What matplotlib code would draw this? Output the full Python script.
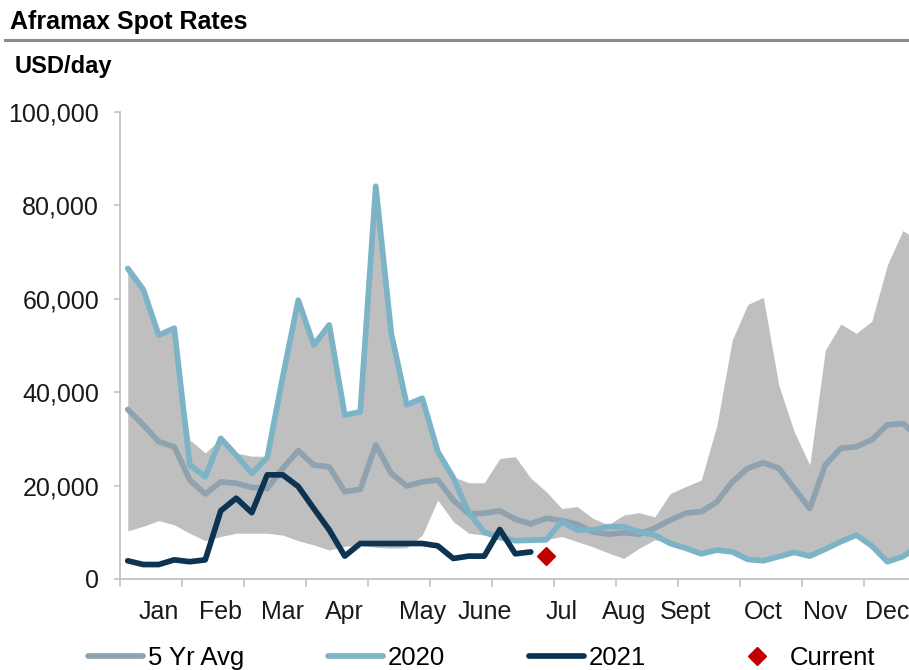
import matplotlib
matplotlib.use("Agg")
import matplotlib.pyplot as plt
from matplotlib.lines import Line2D
import numpy as np

plt.rcParams['font.family'] = ['Liberation Sans', 'DejaVu Sans']

# ---- data (weekly, week index 0..51) ----
weeks = list(range(52))
avg_5yr = [36300, 33000, 29400, 28300, 21200, 18200, 20800, 20500, 19600, 19400, 23700, 27500, 24400,
           24000, 18700, 19200, 28700, 22600, 19900, 20800, 21200, 16900, 13900, 14100, 14600, 12800,
           11800, 13000, 12500, 11700, 10100, 9600, 9900, 9600, 10900, 12600, 14100, 14400, 16500,
           20800, 23700, 24900, 23700, 19400, 15100, 24400, 28000, 28300, 29800, 33000, 33300, 30500]
band_high = [66500, 62000, 52200, 53700, 29800, 27000, 30100, 27000, 26300, 26300, 43300, 59700, 50100,
             54400, 35100, 35800, 84100, 52600, 37300, 38700, 27300, 21900, 20600, 20600, 25800, 26200,
             21600, 18700, 15100, 15500, 13000, 11600, 13700, 14200, 13300, 18300, 19800, 21200, 32800,
             51200, 58800, 60300, 41500, 31500, 24400, 49000, 54600, 52600, 55200, 67200, 74600, 72500]
band_low = [10300, 11300, 12500, 11600, 9800, 8200, 9100, 9800, 9800, 9800, 9400, 8200, 7300,
            6200, 7000, 7200, 6800, 6600, 6700, 9400, 16900, 12300, 9800, 9400, 8900, 8200,
            8300, 8400, 9100, 8000, 6900, 5600, 4400, 6600, 8400, 7600, 6600, 5400, 6200,
            5800, 4200, 3900, 4800, 5700, 4900, 6400, 8000, 9400, 7100, 3700, 4800, 7000]
y2020 = [66500, 62000, 52200, 53700, 24400, 21900, 30100, 26500, 22600, 26000, 43300, 59700, 50100,
         54400, 35100, 35800, 84100, 52600, 37300, 38700, 27300, 21700, 14200, 10000, 8900, 8200,
         8300, 8400, 12300, 10500, 10500, 11200, 11200, 10100, 9400, 7600, 6600, 5400, 6200,
         5800, 4200, 3900, 4800, 5700, 4900, 6400, 8000, 9400, 7100, 3700, 4800, 7000]
y2021 = [3900, 3100, 3100, 4100, 3700, 4100, 14600, 17300, 14200, 22300, 22300, 19800, 15100,
         10500, 4900, 7600, 7600, 7600, 7600, 7600, 7100, 4400, 4900, 4900, 10600, 5400, 5800]
current_week = [27]
current_val = [4900]

month_labels = ['Jan', 'Feb', 'Mar', 'Apr', 'May', 'June', 'Jul', 'Aug', 'Sept', 'Oct', 'Nov', 'Dec']
month_weeks = [2, 6, 10, 14, 19, 23, 28, 32, 36, 41, 45, 49]
y_ticks = [0, 20000, 40000, 60000, 80000, 100000]

# ---- styling ----
c_band = '#BFBFBF'
c_avg = '#8FA2AF'
c_2020 = '#7DB3C6'
c_2021 = '#0C3352'
c_cur = '#C00000'
c_axis = '#C4C4C4'
fs = 18

W, H = 909, 670
fig = plt.figure(figsize=(W / 100, H / 100), dpi=100)
ax = fig.add_axes([120 / W, 91 / H, 789 / W, 467 / H])

wk = np.array(weeks)
ax.fill_between(wk, band_low, band_high, color=c_band, lw=0, zorder=1)
lkw = dict(lw=4.1, solid_joinstyle='round', solid_capstyle='round')
ax.plot(wk, avg_5yr, color=c_avg, label='5 Yr Avg', zorder=3, **lkw)
ax.plot(wk, y2020, color=c_2020, label='2020', zorder=4, **lkw)
ax.plot(np.arange(len(y2021)), y2021, color=c_2021, label='2021', zorder=5, **lkw)
ax.plot(current_week, current_val, linestyle='none', marker='D', ms=9.5, color=c_cur,
        label='Current', zorder=6)

for s in ['top', 'right']:
    ax.spines[s].set_visible(False)
for s in ['left', 'bottom']:
    ax.spines[s].set_color(c_axis)
    ax.spines[s].set_linewidth(1.3)

ax.set_yticks(y_ticks)
ax.set_yticklabels([f'{v:,}' for v in y_ticks])
ax.tick_params(axis='y', length=4, width=1.2, color=c_axis, pad=11, labelsize=fs, labelcolor='#1a1a1a')

ax.set_xticks(np.arange(-0.5, 52, 4))
ax.set_xticklabels([])
ax.tick_params(axis='x', which='major', length=5.5, width=1.2, color=c_axis, direction='out')
ax.set_xticks(month_weeks, minor=True)
ax.set_xticklabels(month_labels, minor=True)
ax.tick_params(axis='x', which='minor', length=0, pad=15, labelsize=fs, labelcolor='#1a1a1a')

ax.set_xlim(-0.5, 50.4)
ax.set_ylim(0, 100000)

# header
fig.text(10 / W, 1 - 22 / H, 'Aframax Spot Rates', fontsize=18, fontweight='bold', va='center', ha='left')
fig.add_artist(Line2D([5 / W, 1.0], [1 - 40 / H, 1 - 40 / H], transform=fig.transFigure,
                      color='#8C8C8C', lw=2.2))
fig.text(15 / W, 1 - 66 / H, 'USD/day', fontsize=17, fontweight='bold', va='center', ha='left')

fig.legend(loc='center left', bbox_to_anchor=(88 / W, 12 / H), ncol=4, frameon=False,
           fontsize=18.5, handlelength=2.14, handletextpad=0.2, columnspacing=3.25,
           borderpad=0, borderaxespad=0, numpoints=1)

fig.savefig('out.png', dpi=100)
